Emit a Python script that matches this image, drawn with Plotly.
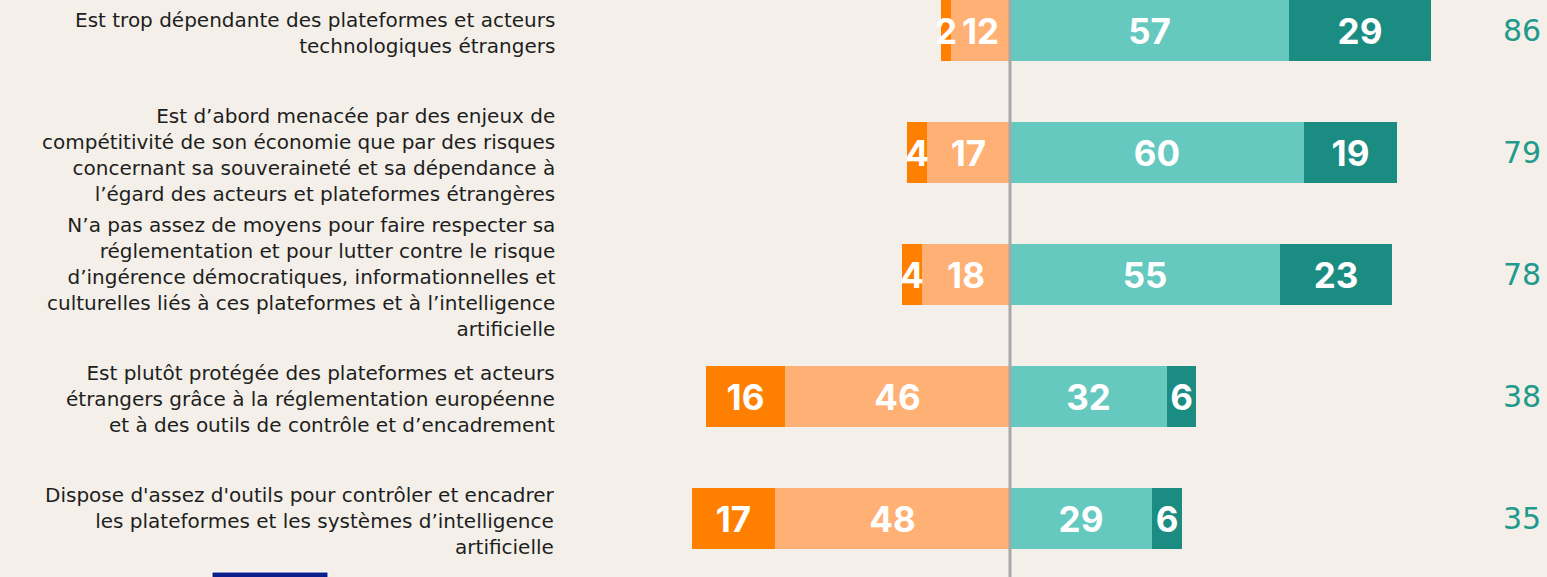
import plotly.graph_objects as go

categories = [
    "Est trop dépendante des plateformes et acteurs<br>technologiques étrangers",
    "Est d’abord menacée par des enjeux de<br>compétitivité de son économie que par des risques<br>concernant sa souveraineté et sa dépendance à<br>l’égard des acteurs et plateformes étrangères",
    "N’a pas assez de moyens pour faire respecter sa<br>réglementation et pour lutter contre le risque<br>d’ingérence démocratiques, informationnelles et<br>culturelles liés à ces plateformes et à l’intelligence<br>artificielle",
    "Est plutôt protégée des plateformes et acteurs<br>étrangers grâce à la réglementation européenne<br>et à des outils de contrôle et d’encadrement",
    "Dispose d'assez d'outils pour contrôler et encadrer<br>les plateformes et les systèmes d’intelligence<br>artificielle",
]
pas_du_tout = [2, 4, 4, 16, 17]
plutot_pas = [12, 17, 18, 46, 48]
plutot = [57, 60, 55, 32, 29]
tout_a_fait = [29, 19, 23, 6, 6]
totals = [86, 79, 78, 38, 35]

C_DARK_OR = "#FF7F00"
C_LIGHT_OR = "#FFB074"
C_LIGHT_TE = "#66C9BF"
C_DARK_TE = "#1A8C82"
BG = "#F4F0E9"

rows = list(range(len(categories)))
W, H = 1547, 577
PX = 4.9
X0 = 1010

fig = go.Figure()

def add_bar(vals, color, sign):
    fig.add_trace(go.Bar(
        y=rows, x=[sign * v for v in vals], orientation="h",
        marker=dict(color=color, line=dict(width=0)),
        width=0.5,
        text=[str(v) for v in vals],
        textposition="inside", insidetextanchor="middle",
        textangle=0, constraintext="none",
        insidetextfont=dict(family="Inter, Open Sans, sans-serif", size=35,
                            color="white", weight="bold"),
        hoverinfo="skip", showlegend=False,
    ))

add_bar(plutot_pas, C_LIGHT_OR, -1)
add_bar(pas_du_tout, C_DARK_OR, -1)
add_bar(plutot, C_LIGHT_TE, 1)
add_bar(tout_a_fait, C_DARK_TE, 1)

annotations = []
for i, (cat, tot) in enumerate(zip(categories, totals)):
    annotations.append(dict(
        x=557 / W, xref="paper", y=i, yref="y", yshift=-2, text=cat, showarrow=False,
        xanchor="right", yanchor="middle", align="right",
        font=dict(family="DejaVu Sans, sans-serif", size=20, color="#1E1E1E"),
    ))
    annotations.append(dict(
        x=1522 / W, xref="paper", y=i, yref="y", text=str(tot), showarrow=False,
        xanchor="center", yanchor="middle",
        font=dict(family="DejaVu Sans, sans-serif", size=30, color="#1F9A8C"),
    ))

shapes = [
    dict(type="line", xref="x", yref="paper", x0=0, x1=0, y0=0, y1=1,
         line=dict(color="#A8A8A8", width=3), layer="above"),
    dict(type="rect", xref="paper", yref="paper", x0=212 / W, x1=328 / W, y0=-0.01, y1=5 / H,
         fillcolor="#0A1E8C", line=dict(color="white", width=1), layer="above"),
]

fig.update_layout(
    width=W, height=H,
    margin=dict(l=0, r=0, t=0, b=0),
    paper_bgcolor=BG, plot_bgcolor=BG,
    barmode="relative", bargap=0,
    xaxis=dict(range=[-X0 / PX, (W - X0) / PX], visible=False, fixedrange=True),
    yaxis=dict(range=[4 + (H - 518.5) / 122, -30.5 / 122], visible=False, fixedrange=True),
    annotations=annotations, shapes=shapes,
    showlegend=False,
)

fig.write_html(
    "out.html",
    config={"displayModeBar": False},
    post_script="document.body.style.margin='0';document.body.style.overflow='hidden';document.body.style.background='#F4F0E9';",
)
